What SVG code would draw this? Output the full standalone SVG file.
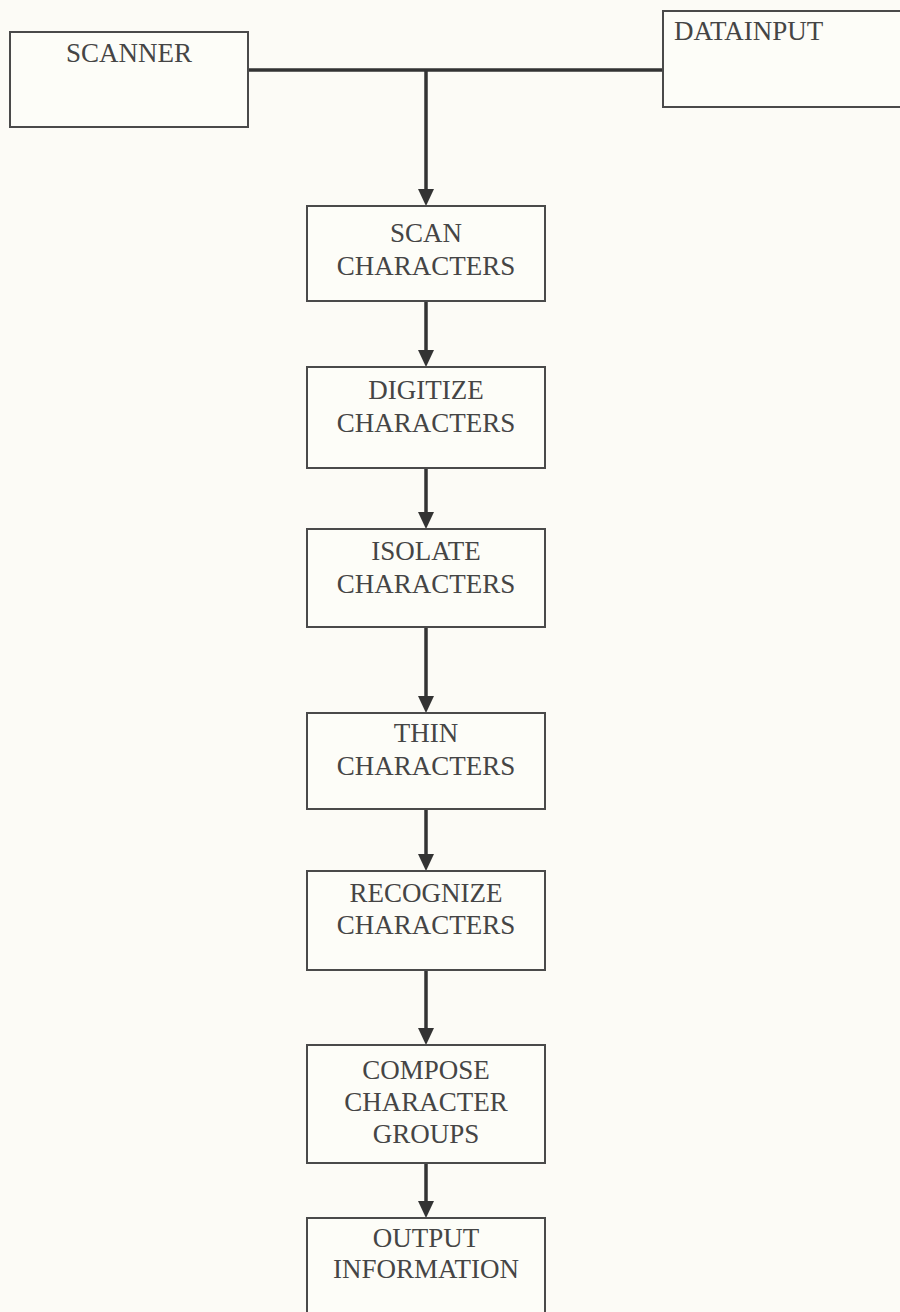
<svg xmlns="http://www.w3.org/2000/svg" width="900" height="1312" viewBox="0 0 900 1312">
<defs>
<style>
.box{fill:#fdfdf8;stroke:#4a4a4a;stroke-width:2}
.lbl{font-family:"Liberation Serif","Times New Roman",serif;font-size:27px;fill:#454545;text-anchor:middle}
.lbl2{font-family:"Liberation Serif","Times New Roman",serif;font-size:27px;fill:#454545}
.conn{stroke:#333;stroke-width:3.5;fill:none}
</style>
<marker id="ah" viewBox="0 0 16 17" refX="8" refY="17" markerWidth="16" markerHeight="17" markerUnits="userSpaceOnUse" orient="auto-start-reverse">
<path d="M0,0 L16,0 L8,17 Z" fill="#333"/>
</marker>
</defs>
<rect width="900" height="1312" fill="#fcfbf6"/>
<g id="connectors">
<line class="conn" x1="248" y1="70" x2="663" y2="70" stroke-width="4"/>
<path class="conn" d="M426,70 V189"/>
<path d="M418,189 L434,189 L426,206 Z" fill="#333"/>
<path class="conn" d="M426,301 V350"/>
<path d="M418,350 L434,350 L426,367 Z" fill="#333"/>
<path class="conn" d="M426,468 V512"/>
<path d="M418,512 L434,512 L426,529 Z" fill="#333"/>
<path class="conn" d="M426,627 V696"/>
<path d="M418,696 L434,696 L426,713 Z" fill="#333"/>
<path class="conn" d="M426,809 V854"/>
<path d="M418,854 L434,854 L426,871 Z" fill="#333"/>
<path class="conn" d="M426,970 V1028"/>
<path d="M418,1028 L434,1028 L426,1045 Z" fill="#333"/>
<path class="conn" d="M426,1163 V1201"/>
<path d="M418,1201 L434,1201 L426,1218 Z" fill="#333"/>
</g>
<g id="scanner">
<rect class="box" x="10" y="32" width="238" height="95"/>
<text class="lbl" x="129" y="62">SCANNER</text>
</g>
<g id="datainput">
<rect class="box" x="663" y="11" width="245" height="96"/>
<text class="lbl2" x="674" y="40">DATAINPUT</text>
</g>
<g id="scan">
<rect class="box" x="307" y="206" width="238" height="95"/>
<text class="lbl" x="426" y="242">SCAN</text>
<text class="lbl" x="426" y="275">CHARACTERS</text>
</g>
<g id="digitize">
<rect class="box" x="307" y="367" width="238" height="101"/>
<text class="lbl" x="426" y="399">DIGITIZE</text>
<text class="lbl" x="426" y="432">CHARACTERS</text>
</g>
<g id="isolate">
<rect class="box" x="307" y="529" width="238" height="98"/>
<text class="lbl" x="426" y="560">ISOLATE</text>
<text class="lbl" x="426" y="593">CHARACTERS</text>
</g>
<g id="thin">
<rect class="box" x="307" y="713" width="238" height="96"/>
<text class="lbl" x="426" y="742">THIN</text>
<text class="lbl" x="426" y="775">CHARACTERS</text>
</g>
<g id="recognize">
<rect class="box" x="307" y="871" width="238" height="99"/>
<text class="lbl" x="426" y="902">RECOGNIZE</text>
<text class="lbl" x="426" y="934">CHARACTERS</text>
</g>
<g id="compose">
<rect class="box" x="307" y="1045" width="238" height="118"/>
<text class="lbl" x="426" y="1079">COMPOSE</text>
<text class="lbl" x="426" y="1111">CHARACTER</text>
<text class="lbl" x="426" y="1143">GROUPS</text>
</g>
<g id="output">
<rect class="box" x="307" y="1218" width="238" height="100"/>
<text class="lbl" x="426" y="1247">OUTPUT</text>
<text class="lbl" x="426" y="1278">INFORMATION</text>
</g>
</svg>
